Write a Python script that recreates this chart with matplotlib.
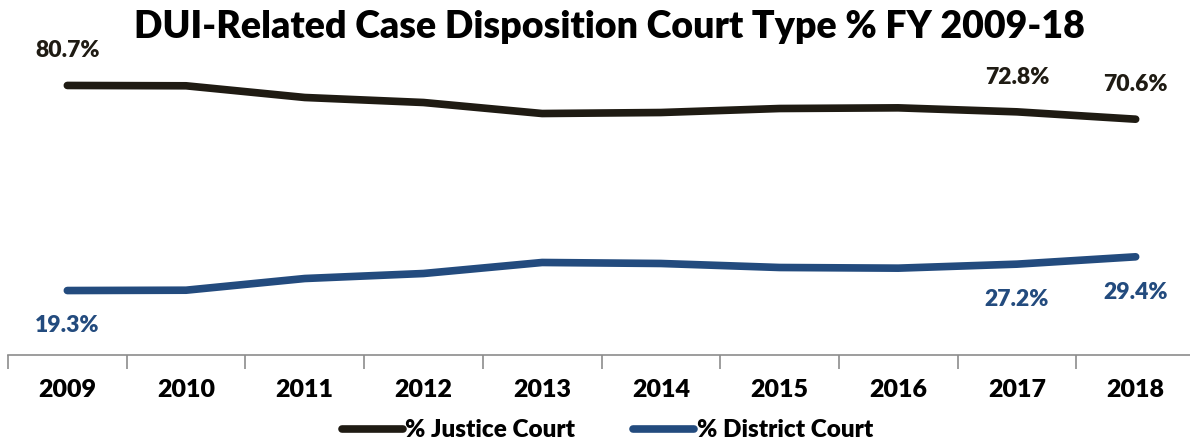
import numpy as np
import matplotlib.pyplot as plt

years = ["2009", "2010", "2011", "2012", "2013", "2014", "2015", "2016", "2017", "2018"]
district = [19.3, 19.4, 22.9, 24.4, 27.7, 27.4, 26.2, 26.0, 27.2, 29.4]
justice = [80.7, 80.6, 77.1, 75.6, 72.3, 72.6, 73.8, 74.0, 72.8, 70.6]

# which points get a label
labelled = [0, 8, 9]

black = "#1f1b13"
blue = "#234b7e"

plt.rcParams["font.family"] = ["Lato", "DejaVu Sans"]
wt = "heavy"

fig = plt.figure(figsize=(11.9, 4.42), dpi=100)
ax = fig.add_axes([8 / 1190, 87 / 442, 1187 / 1190, 334 / 442])

x = np.arange(len(years))
ax.plot(x, justice, color=black, lw=5.5, solid_capstyle="round", solid_joinstyle="round",
        label="% Justice Court")
ax.plot(x, district, color=blue, lw=5.5, solid_capstyle="round", solid_joinstyle="round",
        label="% District Court")

for i in labelled:
    ax.annotate(f"{justice[i]:.1f}%", (x[i], justice[i]), xytext=(0, 25),
                textcoords="offset points", ha="center", va="center", fontsize=16.5,
                fontweight=wt, color=black)
    ax.annotate(f"{district[i]:.1f}%", (x[i], district[i]), xytext=(0, -25.5),
                textcoords="offset points", ha="center", va="center", fontsize=16.5,
                fontweight=wt, color=blue)

ax.set_xlim(-0.5, len(years) - 0.5)
ax.set_ylim(0, 100)
ax.set_yticks([])
ax.set_xticks(x)
ax.set_xticklabels(years, fontsize=18, fontweight=wt)
ax.set_xticks(np.arange(-0.5, len(years)), minor=True)
ax.tick_params(axis="x", which="major", length=0, pad=17)
ax.tick_params(axis="x", which="minor", length=10, width=1.2, color="#8c8c8c", direction="out")
for s in ["top", "right", "left"]:
    ax.spines[s].set_visible(False)
ax.spines["bottom"].set_color("#8c8c8c")
ax.spines["bottom"].set_linewidth(1.2)

fig.suptitle("DUI-Related Case Disposition Court Type % FY 2009-18", x=0.512, y=0.978,
             fontsize=27, fontweight=wt)

ax.legend(loc="center", bbox_to_anchor=(0.505, -0.225), ncol=2, frameon=False,
          handlelength=2.5, handletextpad=0.1, columnspacing=2.4,
          prop={"weight": wt, "size": 17.5, "family": ["Lato", "DejaVu Sans"]})

fig.savefig("out.png", dpi=100)
